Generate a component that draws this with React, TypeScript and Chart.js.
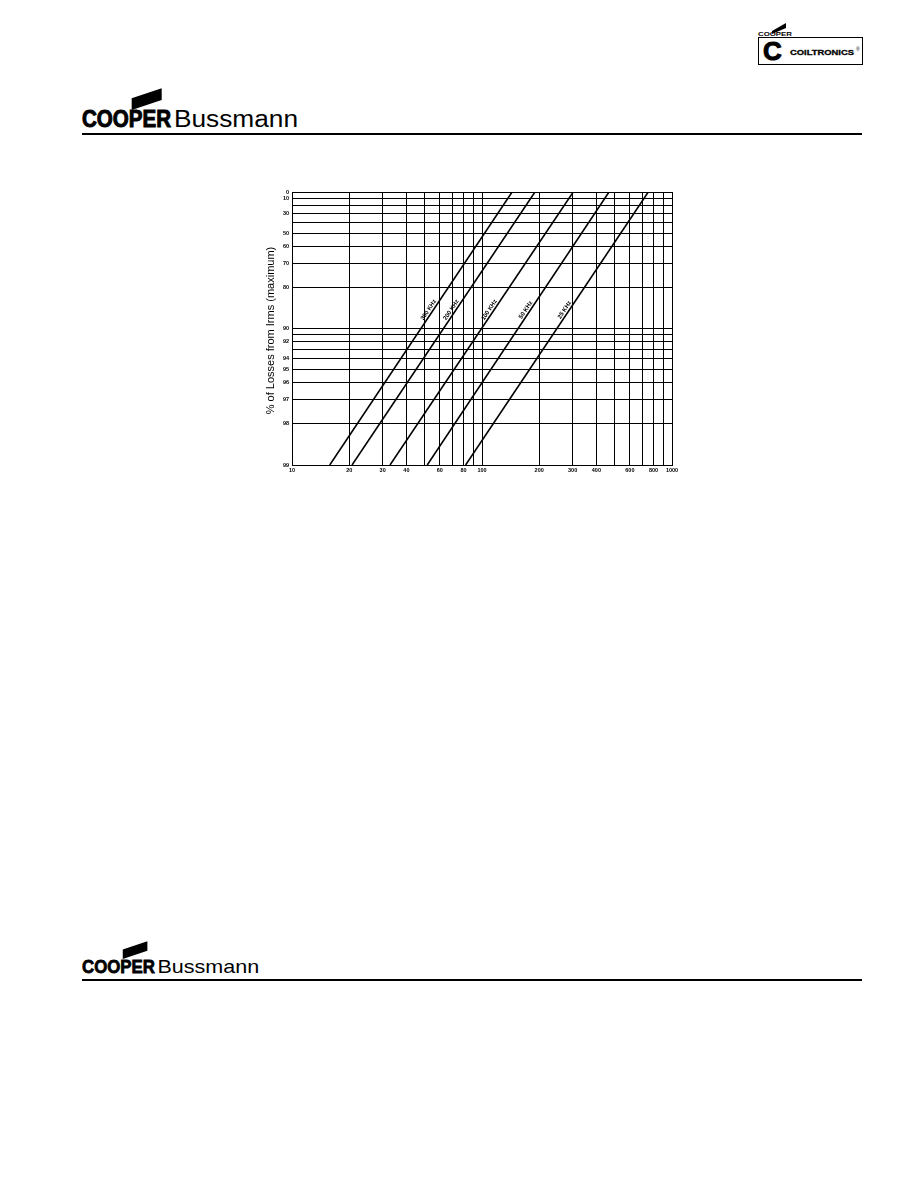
import React, { useEffect, useRef } from "react";
import { Chart, registerables } from "chart.js";

Chart.register(...registerables);

// ---- data ----
const seriesLabels = ["300 KHz", "200 KHz", "100 KHz", "50 KHz", "25 KHz"];
const endpointLoss = [99, 0]; // % of losses at the two ends of each line
const line300 = [15.8, 144];
const line200 = [20.7, 190];
const line100 = [32.8, 302];
const line50 = [51.5, 466];
const line25 = [82, 750];
const seriesX = [line300, line200, line100, line50, line25];

const xTicks = [10, 20, 30, 40, 50, 60, 70, 80, 90, 100, 200, 300, 400, 500, 600, 700, 800, 900, 1000];
const xLabelled = [10, 20, 30, 40, 60, 80, 100, 200, 300, 400, 600, 800, 1000];
const yTicksPct = [0, 10, 20, 30, 40, 50, 60, 70, 80, 90, 91, 92, 93, 94, 95, 96, 97, 98, 99];
const yLabelled = [0, 10, 30, 50, 60, 70, 80, 90, 92, 94, 95, 96, 97, 98, 99];
const yTitle = "% of Losses from Irms (maximum)";

const toAxis = (p: number) => 100 - p;

const annotate = {
  id: "annotate",
  afterDatasetsDraw(chart: any) {
    const ctx = chart.ctx;
    ctx.save();
    ctx.fillStyle = "#000";
    ctx.font = "bold 6px 'Liberation Sans', Arial, sans-serif";
    ctx.textAlign = "center";
    ctx.textBaseline = "bottom";
    chart.data.datasets.forEach((ds: any, i: number) => {
      const pts = chart.getDatasetMeta(i).data;
      const a = pts[0];
      const b = pts[1];
      const t = 0.56;
      const x = a.x + t * (b.x - a.x);
      const y = a.y + t * (b.y - a.y);
      const ang = Math.atan2(b.y - a.y, b.x - a.x);
      ctx.save();
      ctx.translate(x, y);
      ctx.rotate(ang);
      ctx.fillText(ds.label, 0, -1);
      ctx.restore();
    });
    // y axis title
    const area = chart.chartArea;
    ctx.font = "11px 'Liberation Sans', Arial, sans-serif";
    ctx.textBaseline = "middle";
    ctx.save();
    ctx.translate(area.left - 21, (area.top + area.bottom) / 2 + 2);
    ctx.rotate(-Math.PI / 2);
    ctx.fillText(yTitle, 0, 0);
    ctx.restore();
    ctx.restore();
  },
};

function LossChart() {
  const ref = useRef<HTMLCanvasElement>(null);
  useEffect(() => {
    if (!ref.current) return;
    const tickFont = { family: "'Liberation Sans', Arial, sans-serif", size: 5.5, weight: "bold" as const };
    const chart = new Chart(ref.current, {
      type: "line",
      data: {
        datasets: seriesLabels.map((label, i) => ({
          label,
          data: seriesX[i].map((x, j) => ({ x, y: toAxis(endpointLoss[j]) })),
          borderColor: "#000",
          borderWidth: 1.6,
          pointRadius: 0,
          fill: false,
          tension: 0,
        })),
      },
      options: {
        animation: false,
        responsive: false,
        layout: { padding: { top: 12, right: 28, left: 0, bottom: 0 } },
        plugins: { legend: { display: false }, tooltip: { enabled: false }, title: { display: false } },
        scales: {
          x: {
            type: "logarithmic",
            min: 10,
            max: 1000,
            afterBuildTicks: (scale: any) => {
              scale.ticks = xTicks.map((v) => ({ value: v }));
            },
            afterFit: (scale: any) => {
              scale.height = 25;
            },
            ticks: {
              autoSkip: false,
              maxRotation: 0,
              padding: 2,
              color: "#000",
              font: tickFont,
              callback: (value: any) => (xLabelled.includes(Math.round(Number(value))) ? String(Math.round(Number(value))) : ""),
            },
            grid: { color: "#000", lineWidth: 1, drawTicks: false },
            border: { color: "#000", width: 1 },
          },
          y: {
            type: "logarithmic",
            min: 1,
            max: 100,
            afterBuildTicks: (scale: any) => {
              scale.ticks = yTicksPct.map((p) => ({ value: toAxis(p) }));
            },
            afterFit: (scale: any) => {
              scale.width = 52;
            },
            ticks: {
              autoSkip: false,
              padding: 3,
              color: "#000",
              font: tickFont,
              callback: (value: any) => {
                const p = Math.round(100 - Number(value));
                return yLabelled.includes(p) ? String(p) : "";
              },
            },
            grid: { color: "#000", lineWidth: 1, drawTicks: false },
            border: { color: "#000", width: 1 },
          },
        },
      },
      plugins: [annotate],
    } as any);
    return () => chart.destroy();
  }, []);
  return <canvas ref={ref} width={460} height={310} style={{ position: "absolute", left: 240, top: 180, width: 460, height: 310 }} />;
}

function CooperBussmann({ x, y, s }: { x: number; y: number; s: number }) {
  return (
    <g transform={`translate(${x},${y}) scale(${s})`}>
      <polygon points="49.7,-28.7 79.7,-38.7 79.7,-27 49.7,-17" fill="#000" />
      <text
        x={0}
        y={0}
        fontFamily="'Liberation Sans', Arial, sans-serif"
        fontWeight={900}
        fontSize={23.5}
        textLength={89}
        lengthAdjust="spacingAndGlyphs"
        fill="#000"
        stroke="#000"
        strokeWidth={1}
      >
        COOPER
      </text>
      <text
        x={92}
        y={0}
        fontFamily="'Liberation Sans', Arial, sans-serif"
        fontSize={23.5}
        textLength={124}
        lengthAdjust="spacingAndGlyphs"
        fill="#000"
      >
        Bussmann
      </text>
    </g>
  );
}

export default function App() {
  return (
    <div style={{ position: "absolute", left: 0, top: 0, width: 918, height: 1188, background: "#fff" }}>
      <svg width={918} height={1188} style={{ position: "absolute", left: 0, top: 0 }}>
        {/* header */}
        <CooperBussmann x={82} y={127} s={1} />
        <rect x={82} y={133} width={780} height={2} fill="#000" />
        {/* footer */}
        <CooperBussmann x={82} y={973} s={0.82} />
        <rect x={82} y={979} width={780} height={2} fill="#000" />
        {/* top-right Coiltronics logo */}
        <polygon points="772,31 786,23 786,28 772,34" fill="#000" />
        <text x={758} y={36} fontFamily="'Liberation Sans', Arial, sans-serif" fontWeight={900} fontSize={5.5} textLength={34} lengthAdjust="spacingAndGlyphs" fill="#000">
          COOPER
        </text>
        <rect x={758.5} y={37.5} width={104} height={27} fill="none" stroke="#000" strokeWidth={1} />
        <text x={763} y={60} fontFamily="'Liberation Sans', Arial, sans-serif" fontWeight={900} fontSize={26} fill="#000" stroke="#000" strokeWidth={1}>
          C
        </text>
        <text x={790} y={55} fontFamily="'Liberation Sans', Arial, sans-serif" fontWeight={900} fontSize={8} textLength={64} lengthAdjust="spacingAndGlyphs" fill="#000" stroke="#000" strokeWidth={0.3}>
          COILTRONICS
        </text>
        <text x={856} y={51} fontFamily="'Liberation Sans', Arial, sans-serif" fontSize={5} fill="#000">
          ®
        </text>
      </svg>
      <LossChart />
    </div>
  );
}
